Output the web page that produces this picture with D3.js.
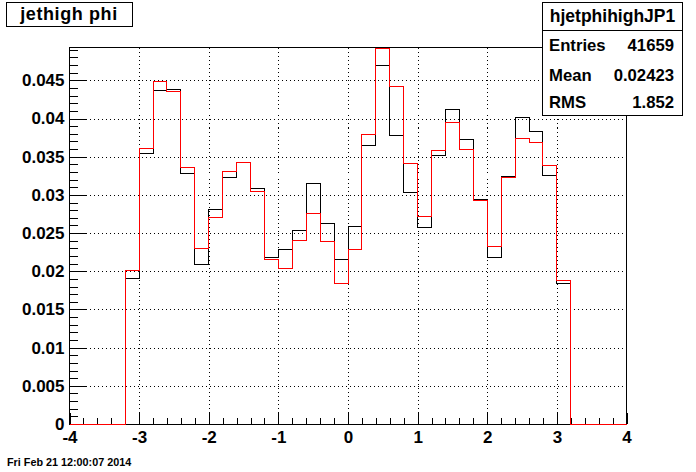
<!DOCTYPE html>
<html>
<head>
<meta charset="utf-8">
<script src="https://cdn.jsdelivr.net/npm/d3@7"></script>
<style>
body { margin: 0; background: #fff; }
svg { display: block; font-family: "Liberation Sans", Arial, sans-serif; font-weight: bold; }
line, path, rect { shape-rendering: crispEdges; }
</style>
</head>
<body>
<div id="chart"></div>
<script>
// jethigh phi histogram, ROOT look, drawn with D3

// 40 bins of width 0.2 between -4 and 4
const binLow = -4;
const binWidth = 0.2;
const blackValues = [0, 0, 0, 0,
    0.0191, 0.0354, 0.0437, 0.0438, 0.0328, 0.0209, 0.0281, 0.0323,
    0.0343, 0.0308, 0.0218, 0.0229, 0.0253, 0.0315, 0.0263, 0.0216,
    0.0259, 0.0365, 0.0470, 0.0378, 0.0303, 0.0257, 0.0351, 0.0412,
    0.0373, 0.0294, 0.0218, 0.0324, 0.0401, 0.0383, 0.0326, 0.0184,
    0, 0, 0, 0];
const redValues = [0, 0, 0, 0,
    0.0201, 0.0361, 0.0448, 0.0436, 0.0336, 0.0230, 0.0271, 0.0331,
    0.0343, 0.0305, 0.0216, 0.0203, 0.0240, 0.0276, 0.0239, 0.0184,
    0.0229, 0.0379, 0.0492, 0.0442, 0.0341, 0.0272, 0.0358, 0.0395,
    0.0360, 0.0293, 0.0233, 0.0323, 0.0374, 0.0369, 0.0339, 0.0188,
    0, 0, 0, 0];

const xTicks = [-4, -3, -2, -1, 0, 1, 2, 3, 4];
const yTicks = [0, 0.005, 0.01, 0.015, 0.02, 0.025, 0.03, 0.035, 0.04, 0.045];
const yTickLabels = ["0", "0.005", "0.01", "0.015", "0.02", "0.025", "0.03", "0.035", "0.04", "0.045"];

const statsTitle = "hjetphihighJP1";
const statsNames = ["Entries", "Mean", "RMS"];
const statsValues = ["41659", "0.02423", "1.852"];

const width = 696;
const height = 472;
const frame = { left: 69.5, right: 626.5, top: 47.5, bottom: 424 };

const svg = d3.select("#chart").append("svg")
    .attr("width", width)
    .attr("height", height);

const x = d3.scaleLinear().domain([-4, 4]).range([frame.left, frame.right]);
const y = d3.scaleLinear().domain([0, 0.0493]).range([frame.bottom, frame.top]);

// grid (dotted)
const grid = svg.append("g")
    .attr("stroke", "#000")
    .attr("stroke-width", 1)
    .attr("stroke-dasharray", "1,3");
grid.selectAll("line.gx")
    .data(xTicks.slice(1, -1))
    .join("line")
    .attr("x1", d => Math.round(x(d)) + 0.5)
    .attr("x2", d => Math.round(x(d)) + 0.5)
    .attr("y1", frame.top)
    .attr("y2", frame.bottom);
grid.selectAll("line.gy")
    .data(yTicks.slice(1))
    .join("line")
    .attr("x1", frame.left)
    .attr("x2", frame.right)
    .attr("y1", d => Math.round(y(d)) + 0.5)
    .attr("y2", d => Math.round(y(d)) + 0.5);

// frame (drawn before the histograms so the red baseline stays on top)
svg.append("rect")
    .attr("x", frame.left)
    .attr("y", frame.top)
    .attr("width", frame.right - frame.left)
    .attr("height", frame.bottom - frame.top)
    .attr("fill", "none")
    .attr("stroke", "#000");

// y axis: major + minor ticks pointing inside
const yMinor = d3.range(0.001, 0.0493, 0.001).filter(v => Math.abs(v / 0.005 - Math.round(v / 0.005)) > 1e-6);
const yAxis = svg.append("g")
    .attr("transform", `translate(${frame.left},0)`)
    .call(d3.axisLeft(y)
        .tickValues(yTicks)
        .tickFormat((d, i) => yTickLabels[i])
        .tickSizeInner(-16.5)
        .tickSizeOuter(0)
        .tickPadding(5));
yAxis.select(".domain").remove();
yAxis.selectAll("text")
    .attr("font-size", 17)
    .attr("font-family", null)
    .attr("fill", "#000");
svg.append("g")
    .attr("transform", `translate(${frame.left},0)`)
    .call(d3.axisLeft(y).tickValues(yMinor).tickFormat("").tickSizeInner(-8).tickSizeOuter(0))
    .select(".domain").remove();

// x axis
const xMinor = d3.range(-4, 4.001, 0.2).filter(v => Math.abs(v - Math.round(v)) > 1e-6);
const xAxis = svg.append("g")
    .attr("transform", `translate(0,${frame.bottom})`)
    .call(d3.axisBottom(x)
        .tickValues(xTicks)
        .tickFormat(d3.format("d"))
        .tickSizeInner(-11.3)
        .tickSizeOuter(0)
        .tickPadding(7));
xAxis.select(".domain").remove();
xAxis.selectAll("text")
    .attr("font-size", 17)
    .attr("font-family", null)
    .attr("fill", "#000")
    .text(d => d < 0 ? "-" + Math.abs(d) : d);
svg.append("g")
    .attr("transform", `translate(0,${frame.bottom})`)
    .call(d3.axisBottom(x).tickValues(xMinor).tickFormat("").tickSizeInner(-5.6).tickSizeOuter(0))
    .select(".domain").remove();

// histograms as step outlines
function stepPoints(values) {
    const pts = values.map((v, i) => [binLow + i * binWidth, v]);
    pts.push([binLow + values.length * binWidth, values[values.length - 1]]);
    return pts;
}
const step = d3.line()
    .x(d => x(d[0]))
    .y(d => y(d[1]))
    .curve(d3.curveStepAfter);

svg.append("path")
    .attr("d", step(stepPoints(blackValues)))
    .attr("fill", "none")
    .attr("stroke", "#000")
    .attr("stroke-width", 1);

svg.append("path")
    .attr("d", step(stepPoints(redValues)))
    .attr("fill", "none")
    .attr("stroke", "#ff0000")
    .attr("stroke-width", 1);

// title box
svg.append("rect")
    .attr("x", 6.5).attr("y", 2.5)
    .attr("width", 126).attr("height", 24)
    .attr("fill", "#fff").attr("stroke", "#000");
svg.append("text")
    .attr("x", 69).attr("y", 19.5)
    .attr("text-anchor", "middle")
    .attr("font-size", 18)
    .attr("letter-spacing", 0.6)
    .text("jethigh phi");

// stats box
const stats = svg.append("g");
stats.append("rect")
    .attr("x", 542.5).attr("y", 2.5)
    .attr("width", 140).attr("height", 113)
    .attr("fill", "#fff").attr("stroke", "#000");
stats.append("line")
    .attr("x1", 542.5).attr("x2", 682.5)
    .attr("y1", 30.5).attr("y2", 30.5)
    .attr("stroke", "#000");
stats.append("text")
    .attr("x", 612.5).attr("y", 21.5)
    .attr("text-anchor", "middle")
    .attr("font-size", 17.5)
    .text(statsTitle);
const rowY = [51, 80.5, 108];
stats.selectAll("text.name")
    .data(statsNames)
    .join("text")
    .attr("class", "name")
    .attr("x", 549)
    .attr("y", (d, i) => rowY[i])
    .attr("font-size", 16.7)
    .text(d => d);
stats.selectAll("text.val")
    .data(statsValues)
    .join("text")
    .attr("class", "val")
    .attr("x", 674)
    .attr("y", (d, i) => rowY[i])
    .attr("text-anchor", "end")
    .attr("font-size", 16.7)
    .text(d => d);

// date stamp
svg.append("text")
    .attr("x", 7).attr("y", 466)
    .attr("font-size", 10.8)
    .text("Fri Feb 21 12:00:07 2014");
</script>
</body>
</html>
